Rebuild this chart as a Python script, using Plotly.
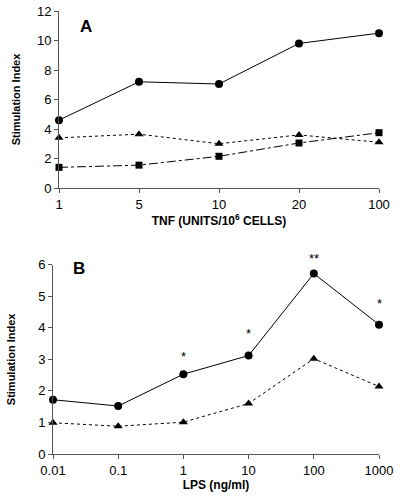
import plotly.graph_objects as go

# Panel A data
tnf_doses = ["1", "5", "10", "20", "100"]
a_circle = [4.6, 7.2, 7.05, 9.8, 10.5]
a_triangle = [3.4, 3.65, 3.0, 3.6, 3.1]
a_square = [1.4, 1.55, 2.15, 3.05, 3.75]
A_YMAX = 12

# Panel B data
lps_doses = ["0.01", "0.1", "1", "10", "100", "1000"]
b_circle = [1.72, 1.52, 2.53, 3.12, 5.72, 4.1]
b_triangle = [0.99, 0.88, 1.01, 1.6, 3.02, 2.14]
B_YMAX = 6
# significance marks (dose, label, height)
sig_doses = ["1", "10", "100", "1000"]
sig_labels = ["*", "*", "**", "*"]
sig_heights = [3.17, 3.93, 6.3, 4.88]

font_family = "Arial, Liberation Sans, sans-serif"
fig = go.Figure()

mk = dict(color="black", size=8)

fig.add_trace(go.Scatter(x=tnf_doses, y=a_circle, mode="lines+markers",
                         line=dict(color="black", width=1),
                         marker=dict(symbol="circle", **mk),
                         cliponaxis=False, xaxis="x", yaxis="y"))
fig.add_trace(go.Scatter(x=tnf_doses, y=a_triangle, mode="lines+markers",
                         line=dict(color="black", width=1, dash="dot"),
                         marker=dict(symbol="triangle-up", **mk),
                         cliponaxis=False, xaxis="x", yaxis="y"))
fig.add_trace(go.Scatter(x=tnf_doses, y=a_square, mode="lines+markers",
                         line=dict(color="black", width=1, dash="dashdot"),
                         marker=dict(symbol="square", color="black", size=7),
                         cliponaxis=False, xaxis="x", yaxis="y"))

fig.add_trace(go.Scatter(x=lps_doses, y=b_circle, mode="lines+markers",
                         line=dict(color="black", width=1),
                         marker=dict(symbol="circle", **mk),
                         cliponaxis=False, xaxis="x2", yaxis="y2"))
fig.add_trace(go.Scatter(x=lps_doses, y=b_triangle, mode="lines+markers",
                         line=dict(color="black", width=1, dash="dot"),
                         marker=dict(symbol="triangle-up", **mk),
                         cliponaxis=False, xaxis="x2", yaxis="y2"))

axis_common = dict(showgrid=False, zeroline=False, showline=True,
                   linecolor="#555", linewidth=1, ticks="outside",
                   ticklen=4, tickcolor="#555", automargin=False,
                   tickfont=dict(family=font_family, size=13, color="black"))

title_font = dict(family=font_family, size=12, color="black", weight="bold")
ytitle_font = dict(family=font_family, size=11, color="black", weight="bold")

annotations = [
    dict(text="<b>A</b>", x=78/400, y=1-15/497, xref="paper", yref="paper",
         showarrow=False, font=dict(family=font_family, size=17, color="black")),
    dict(text="<b>B</b>", x=71/400, y=1-268/497, xref="paper", yref="paper",
         showarrow=False, font=dict(family=font_family, size=17, color="black")),
]
for d, lab, h in zip(sig_doses, sig_labels, sig_heights):
    annotations.append(dict(text=lab, x=lps_doses.index(d), y=h / B_YMAX,
                            xref="x2", yref="y2 domain",
                            showarrow=False, yanchor="middle", yshift=-3,
                            font=dict(family=font_family, size=13, color="black")))

W, H = 400, 497
fig.update_layout(
    width=W, height=H,
    margin=dict(l=0, r=0, t=0, b=0),
    paper_bgcolor="white", plot_bgcolor="white",
    showlegend=False,
    xaxis=dict(domain=[59/W, 379/W], type="category", range=[0, 4],
               title=dict(text="TNF (UNITS/10<sup>6</sup> CELLS)", font=title_font, standoff=4),
               anchor="y", **axis_common),
    yaxis=dict(domain=[(H-188)/H, (H-11)/H], range=[0, A_YMAX], dtick=2,
               title=dict(text="Stimulation Index", font=ytitle_font, standoff=14),
               anchor="x", **axis_common),
    xaxis2=dict(domain=[53/W, 379/W], type="category", range=[0, 5],
                title=dict(text="LPS (ng/ml)", font=title_font, standoff=2),
                anchor="y2", **axis_common),
    yaxis2=dict(domain=[(H-454)/H, (H-264.7)/H], range=[0, B_YMAX], dtick=1,
                title=dict(text="Stimulation Index", font=ytitle_font, standoff=20),
                anchor="x2", **axis_common),
    annotations=annotations,
)

fig.write_html("out.html", config={"displayModeBar": False},
               post_script="document.body.style.margin='0';document.body.style.overflow='hidden';")
